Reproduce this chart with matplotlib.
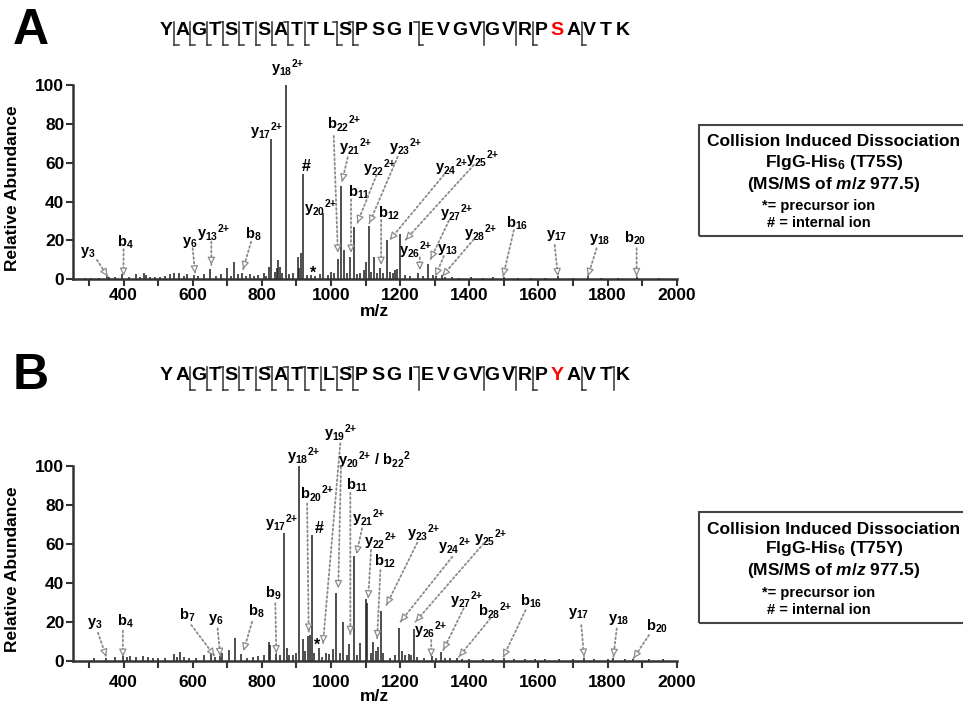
import numpy as np
import matplotlib
matplotlib.use('Agg')
import matplotlib.pyplot as plt
from matplotlib.ticker import MultipleLocator, FuncFormatter
from matplotlib.patches import Rectangle
from matplotlib.lines import Line2D

plt.rcParams['font.family'] = ['Liberation Sans', 'DejaVu Sans']
plt.rcParams['font.weight'] = 'bold'
plt.rcParams['mathtext.fontset'] = 'custom'
plt.rcParams['mathtext.rm'] = 'Liberation Sans:bold'
plt.rcParams['mathtext.bf'] = 'Liberation Sans:bold'
plt.rcParams['mathtext.it'] = 'Liberation Sans:italic:bold'
plt.rcParams['mathtext.default'] = 'bf'

# ---------------------------------------------------------------------------
# data
seq_A = "YAGTSTSATTLSPSGIEVGVGVRPSAVTK"
seq_B = "YAGTSTSATTLSPSGIEVGVGVRPYAVTK"
mutant_pos = 24  # 0-based, residue 25 shown in red

b_ions_A = [4, 8, 11, 12, 16, 20, 22]
y_ions_A = [3, 6, 13, 17, 18, 20, 21, 22, 23, 24, 25, 26, 27, 28]
b_ions_B = [4, 7, 8, 9, 11, 12, 16, 20, 22, 28]
y_ions_B = [3, 6, 17, 18, 19, 20, 21, 22, 23, 24, 25, 26, 27]

# (m/z, relative abundance)
peaks_A = [(290, 0.8), (305, 0.6), (330, 0.8), (352, 1.5), (358, 1.2), (375, 1.0),
           (397, 2.5), (415, 1.0), (435, 2.5), (448, 1.2), (460, 3.5), (465, 2.0),
           (478, 1.0), (490, 1.2), (505, 1.0), (520, 1.5), (535, 2.5), (545, 3.0),
           (560, 3.5), (575, 1.5), (585, 2.5), (603, 2.0), (615, 1.5), (632, 2.5),
           (650, 5.5), (668, 1.5), (683, 2.5), (700, 6.0), (712, 1.5), (720, 9.0),
           (730, 2.5), (742, 3.5), (755, 1.5), (765, 2.5), (778, 1.5), (790, 2.0),
           (805, 3.5), (812, 1.5), (821, 6.5), (827, 72.5), (838, 4.0), (845, 6.0),
           (848, 10.0), (853, 6.5), (859, 3.0), (870, 100), (880, 2.5), (890, 3.5),
           (904, 11.5), (908, 6.0), (912, 13.5), (920, 54.5), (930, 2.0), (942, 2.0),
           (955, 1.5), (968, 2.5), (977.6, 34.0), (990, 2.0), (1000, 4.0), (1008, 3.0),
           (1019.5, 10.5), (1029, 48.0), (1039, 15.0), (1045, 3.0), (1056, 11.5),
           (1066, 27.0), (1075, 2.5), (1085, 3.0), (1095, 5.0), (1102, 9.0),
           (1109, 27.5), (1117, 4.0), (1125, 11.5), (1133, 3.5), (1141.5, 6.0),
           (1150, 3.5), (1161, 20.0), (1171, 4.0), (1178, 3.0), (1185, 5.0),
           (1192, 5.5), (1200, 23.5), (1215, 2.0), (1230, 1.5), (1253, 3.5),
           (1267, 1.5), (1280, 8.0), (1295, 2.0), (1305, 1.5), (1320, 2.0),
           (1330, 1.2), (1350, 1.0), (1370, 0.8), (1405, 1.0), (1440, 0.6),
           (1470, 1.2), (1500, 1.2), (1540, 0.8), (1580, 0.8), (1620, 0.7),
           (1656, 1.5), (1700, 0.8), (1743, 1.5), (1780, 0.8), (1830, 0.7),
           (1884, 1.0), (1950, 0.6)]

peaks_B = [(316, 1.2), (350, 1.5), (376, 2.0), (398, 2.5), (410, 2.0), (420, 2.5),
           (437, 2.0), (455, 2.5), (470, 2.0), (485, 1.5), (500, 1.2), (520, 1.5),
           (545, 3.5), (555, 2.0), (564, 4.3), (575, 2.0), (590, 1.5), (610, 1.5),
           (634, 3.0), (654, 4.3), (665, 2.0), (678, 2.5), (686, 4.0), (704, 5.5),
           (721, 11.5), (740, 3.5), (758, 1.5), (774, 2.0), (790, 2.5), (805, 3.0),
           (820, 9.6), (823, 8.0), (840, 3.5), (852, 3.0), (863, 65.5), (872, 6.5),
           (880, 3.0), (890, 3.0), (900, 4.0), (907, 100), (918, 11.0), (925, 5.0),
           (935, 12.5), (940, 13.3), (946, 64.6), (952, 4.0), (964, 6.5), (975, 2.0),
           (985, 4.0), (995, 3.5), (1005, 6.0), (1015.5, 34.7), (1025, 4.0),
           (1035, 20.0), (1045, 3.0), (1052, 8.5), (1066, 54.0), (1075, 3.0),
           (1083, 9.0), (1101, 31.6), (1105, 29.6), (1115, 4.0), (1122, 9.4),
           (1130, 5.0), (1137, 7.0), (1145, 25.3), (1150, 4.0), (1170, 1.5),
           (1185, 3.0), (1198, 16.8), (1205, 5.0), (1215, 3.0), (1225, 3.5),
           (1232, 3.0), (1239, 16.2), (1250, 2.0), (1270, 1.5), (1291, 2.5),
           (1305, 1.5), (1319, 4.5), (1330, 1.5), (1345, 1.2), (1365, 1.5),
           (1380, 1.0), (1400, 1.0), (1440, 1.0), (1470, 0.8), (1500, 1.2),
           (1530, 1.0), (1560, 0.8), (1590, 0.8), (1620, 0.8), (1660, 1.0),
           (1700, 0.8), (1732, 1.5), (1760, 1.0), (1800, 0.8), (1817, 1.2),
           (1850, 0.8), (1875, 1.0), (1920, 0.8), (1960, 0.8)]


def ion(s, n, z=''):
    if z:
        z = z.replace('+', '{+}')
        return r'$%s_{%s}{}^{%s}$' % (s, n, z)
    return r'$%s_{%s}$' % (s, n)


# label, label (m/z, abundance), arrow start, arrow end (None = no arrow)
labels_A = [
    (ion('y', 3), (298, 13.6), (323, 10), (354, 1.5)),
    (ion('b', 4), (405, 19), (400, 15.5), (400, 1.8)),
    (ion('y', 6), (591, 19), (600, 16), (607, 3)),
    (ion('y', 13, '2+'), (661, 23.7), (654, 19.4), (654, 7.4)),
    (ion('b', 8), (776, 23.4), (769, 19.4), (746, 5.2)),
    (ion('y', 17, '2+'), (815, 76.4), None, None),
    (ion('y', 18, '2+'), (875, 108.8), None, None),
    ('#', (929, 58), None, None),
    ('*', (947, 3.1), None, None),
    (ion('y', 20, '2+'), (969.5, 36.6), None, None),
    (ion('b', 22, '2+'), (1037, 80.4), (1008, 73.9), (1020, 13.7)),
    (ion('y', 21, '2+'), (1071, 68), (1048.5, 62.9), (1032, 50.3)),
    (ion('b', 11), (1080, 44.6), (1058, 41.2), (1058, 13.7)),
    (ion('y', 22, '2+'), (1141, 57.2), (1132, 53.8), (1076, 28.9)),
    (ion('y', 23, '2+'), (1215.6, 68), (1193, 63.2), (1111, 28.9)),
    (ion('b', 12), (1167, 34), (1145, 30.6), (1145, 7.4)),
    (ion('y', 24, '2+'), (1348, 57.7), (1326.5, 53.8), (1170, 20.3)),
    (ion('y', 25, '2+'), (1437.6, 61.9), (1413, 58.9), (1215.6, 20.3)),
    (ion('y', 26, '2+'), (1244.5, 15.1), (1257, 11.3), (1257, 4.8)),
    (ion('y', 27, '2+'), (1365, 34), (1341, 30.2), (1288, 10.3)),
    (ion('y', 13), (1338, 15.1), (1326.5, 12), (1302, 1.6)),
    (ion('y', 28, '2+'), (1433, 23.7), (1413, 20.6), (1322, 1.6)),
    (ion('b', 16), (1539, 29), (1529, 25.4), (1498, 1.6)),
    (ion('y', 17), (1653, 22.8), (1647, 17.7), (1656.5, 1.6)),
    (ion('y', 18), (1777, 20.3), (1768.5, 16), (1743, 1.6)),
    (ion('b', 20), (1878.5, 21.3), (1884, 16), (1884, 1.6)),
]

labels_B = [
    (ion('y', 3), (318, 19.2), (326, 14.4), (350, 2)),
    (ion('b', 4), (405, 20), (398, 15.4), (398, 2)),
    (ion('b', 7), (585, 23.5), (596, 18.3), (663.5, 2.4)),
    (ion('y', 6), (665.5, 21.3), (672, 16.6), (680, 2.4)),
    (ion('b', 8), (784, 25.2), (772, 20), (747, 5.1)),
    (ion('b', 9), (834, 34.6), (839, 29.5), (842, 3.8)),
    (ion('y', 17, '2+'), (858.6, 70.6), None, None),
    (ion('y', 18, '2+'), (921, 104.8), None, None),
    (ion('b', 20, '2+'), (960, 86), (931, 80.8), (935.6, 14.9)),
    ('#', (964.6, 68), None, None),
    ('*', (960, 8.1), None, None),
    (ion('y', 19, '2+'), (1027, 116.8), (1027, 111.7), (977, 8.9)),
    (ion('y', 20, '2+') + ' / ' + ion('b', 22, '2'), (1126, 103), (1029, 99.6), (1021, 37.2)),
    (ion('b', 11), (1075.7, 90.2), (1056, 86.3), (1056, 13.7)),
    (ion('y', 21, '2+'), (1109, 73.1), (1090, 68), (1073.7, 54.8)),
    (ion('y', 22, '2+'), (1143, 61.5), (1116, 56.9), (1107.6, 32)),
    (ion('b', 12), (1157.7, 50.8), (1143, 46.6), (1133.6, 11.5)),
    (ion('y', 23, '2+'), (1268.6, 65.7), (1249.5, 60.6), (1160.6, 28.6)),
    (ion('y', 24, '2+'), (1358, 58.6), (1351, 53.4), (1201, 20)),
    (ion('y', 25, '2+'), (1461.6, 62.9), (1442, 60.3), (1244.5, 20)),
    (ion('y', 26, '2+'), (1288, 15.8), (1290, 10.6), (1290, 2)),
    (ion('y', 27, '2+'), (1392, 31.2), (1384, 26.9), (1325, 5.5)),
    (ion('b', 28, '2+'), (1476, 26), (1461.6, 21.8), (1370, 2)),
    (ion('b', 16), (1577.5, 30.3), (1563, 26), (1498, 1.7)),
    (ion('y', 17), (1717, 24), (1724, 18.3), (1732, 2)),
    (ion('y', 18), (1833, 21.3), (1826.5, 16.6), (1817, 2)),
    (ion('b', 20), (1944, 17.5), (1920, 13.2), (1875, 1.2)),
]

box_A = ['Collision Induced Dissociation', r'FlgG-His$_6$ (T75S)',
         r'(MS/MS of $\mathit{m/z}$ 977.5)', '*= precursor ion', '# = internal ion']
box_B = ['Collision Induced Dissociation', r'FlgG-His$_6$ (T75Y)',
         r'(MS/MS of $\mathit{m/z}$ 977.5)', '*= precursor ion', '# = internal ion']

# ---------------------------------------------------------------------------
W, H = 963, 706
GRAY = '#8a8a8a'
DARK = '#1e1e1e'

fig = plt.figure(figsize=(W / 100, H / 100), dpi=100)


def fx(x):
    return x / W


def fy(y):
    return 1 - y / H


def draw_sequence(seq, b_ions, y_ions, yc):
    x0, step = 166, 16.3
    n = len(seq)
    for i, aa in enumerate(seq):
        col = 'red' if i == mutant_pos else 'black'
        fig.text(fx(x0 + i * step), fy(yc), aa, ha='center', va='center',
                 fontsize=14, fontweight='bold', color=col)
    top, bot, hook = yc - 9, yc + 14.5, 4.5
    gaps_b = set(b_ions)
    gaps_y = set(n - k for k in y_ions)
    for g in sorted(gaps_b | gaps_y):
        xm = x0 + (g - 0.5) * step
        fig.add_artist(Line2D([fx(xm), fx(xm)], [fy(top), fy(bot)], color='#333333', lw=1.1))
        if g in gaps_b:
            fig.add_artist(Line2D([fx(xm - hook), fx(xm)], [fy(top), fy(top)], color='#333333', lw=1.1))
        if g in gaps_y:
            fig.add_artist(Line2D([fx(xm), fx(xm + hook)], [fy(bot), fy(bot)], color='#333333', lw=1.1))


def draw_box(lines, top):
    fig.add_artist(Rectangle((fx(699), fy(top + 111)), (969 - 699) / W, 111 / H,
                             transform=fig.transFigure, fill=False, ec='#444444', lw=1.5))
    offs = [17, 37, 59, 81, 98]
    for k, (txt, dy) in enumerate(zip(lines, offs)):
        if k < 3:
            fig.text(fx(834), fy(top + dy), txt, ha='center', va='center', fontsize=12.5)
        else:
            fig.text(fx(819), fy(top + dy), txt, ha='center', va='center', fontsize=10.5)


def arrow(ax, start, end):
    ax.annotate('', xy=end, xytext=start,
                arrowprops=dict(arrowstyle='-', ls=(0, (1, 1.5)), color=GRAY, lw=1.3,
                                shrinkA=0, shrinkB=0), annotation_clip=False)
    p0 = ax.transData.transform(start)
    p1 = ax.transData.transform(end)
    d = (p1 - p0) / np.hypot(*(p1 - p0))
    ax.annotate('', xy=end, xytext=(-d[0] * 7, -d[1] * 7), textcoords='offset pixels',
                arrowprops=dict(arrowstyle='-|>,head_length=0.45,head_width=0.22',
                                fc='white', ec=GRAY, lw=0.9, shrinkA=0, shrinkB=0),
                annotation_clip=False)


def draw_spectrum(rect, peaks, labels, xpad, xlab_y):
    ax = fig.add_axes(rect)
    mz, ab = zip(*peaks)
    ax.vlines(mz, 0, ab, color=DARK, lw=1.1)
    ax.set_xlim(253, 2000)
    ax.set_ylim(0, 100)
    for s in ['top', 'right']:
        ax.spines[s].set_visible(False)
    for s in ['left', 'bottom']:
        ax.spines[s].set_linewidth(1.8)
        ax.spines[s].set_color('#333333')
    ax.xaxis.set_major_locator(MultipleLocator(100))
    ax.xaxis.set_major_formatter(FuncFormatter(lambda v, p: '%d' % v if int(v) % 200 == 0 else ''))
    ax.yaxis.set_major_locator(MultipleLocator(20))
    ax.tick_params(axis='both', direction='out', length=5, width=1.5, color='#333333',
                   labelsize=12.5)
    ax.tick_params(axis='x', pad=xpad)
    ax.tick_params(axis='y', pad=1)
    ax.set_ylabel('Relative Abundance', fontsize=12.5, fontweight='bold')
    ax.yaxis.set_label_coords(-0.087, 0.47)
    ax.set_xlabel('m/z', fontsize=12.5, fontweight='bold')
    ax.xaxis.set_label_coords(0.5, xlab_y)
    for txt, pos, start, end in labels:
        fs = 11.5 if txt in ('#', '*') else 10.5
        ax.text(pos[0], pos[1], txt, ha='center', va='center', fontsize=fs)
        if start is not None:
            arrow(ax, start, end)
    return ax


axA = draw_spectrum([0.0755, 0.6044, 0.6272, 0.2748], peaks_A, labels_A, 1.5, -0.125)
axB = draw_spectrum([0.0755, 0.0642, 0.6272, 0.2757], peaks_B, labels_B, 5, -0.145)

draw_sequence(seq_A, b_ions_A, y_ions_A, 30.5)
draw_sequence(seq_B, b_ions_B, y_ions_B, 375.5)

fig.text(fx(31), fy(31), 'A', ha='center', va='center', fontsize=36, fontweight='bold')
fig.text(fx(31), fy(376), 'B', ha='center', va='center', fontsize=36, fontweight='bold')

draw_box(box_A, 125)
draw_box(box_B, 512)

fig.savefig('out.png', dpi=100)
